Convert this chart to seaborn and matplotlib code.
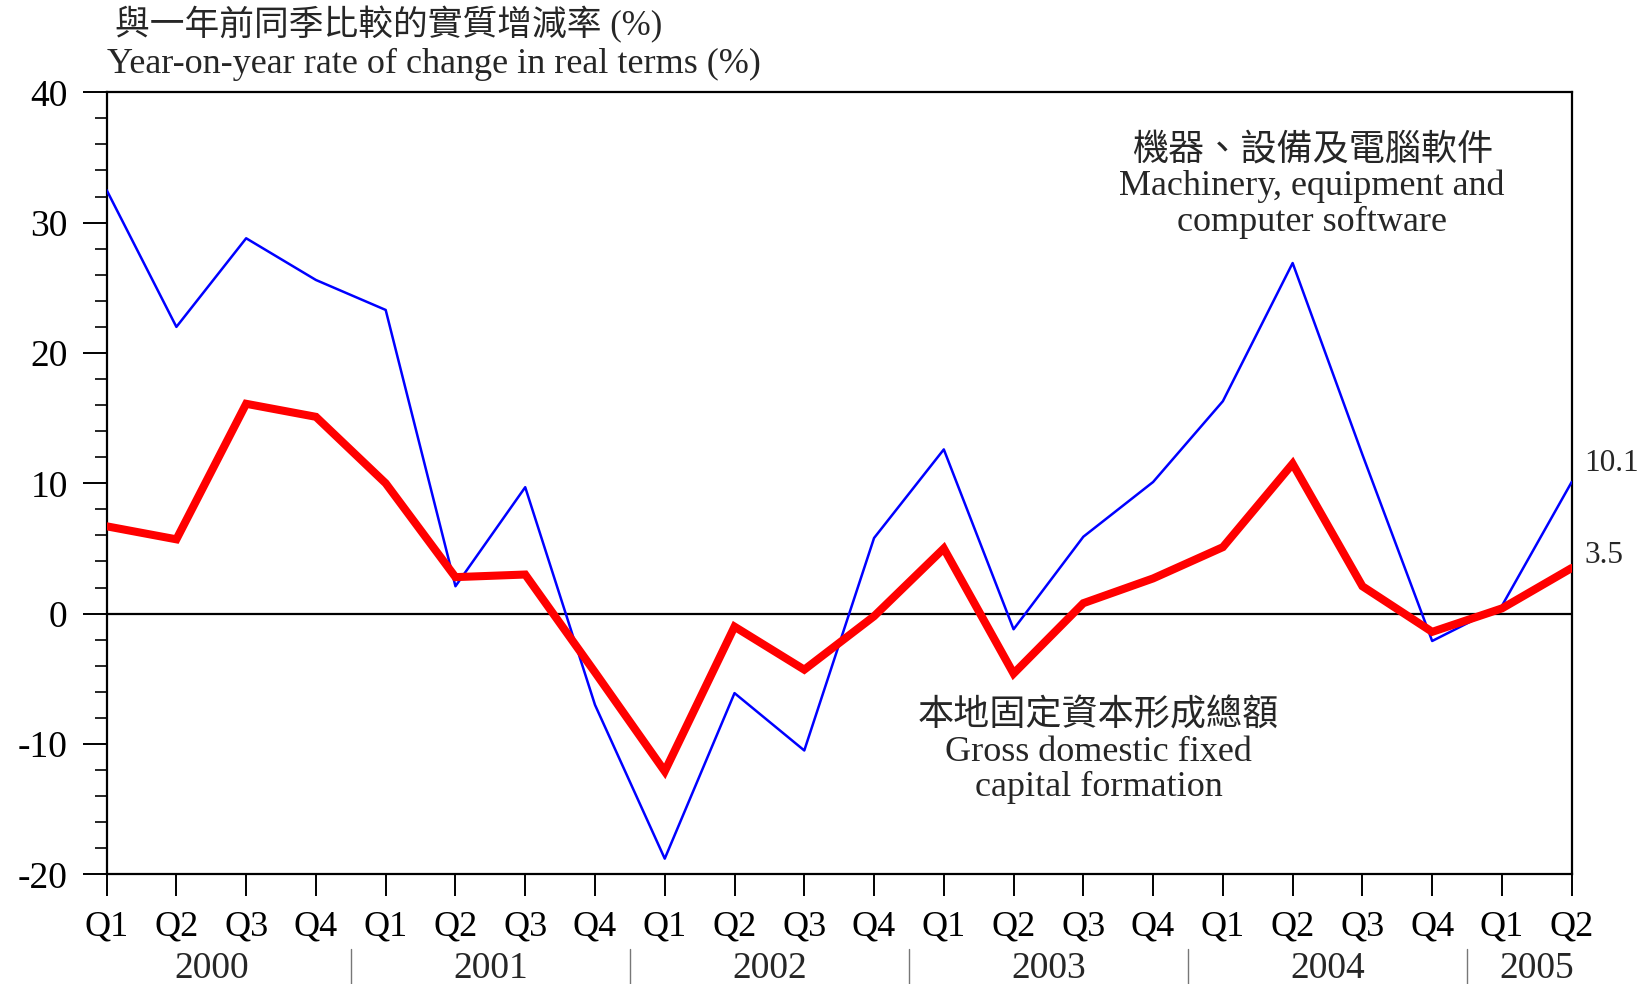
import matplotlib.pyplot as plt
import numpy as np
import pandas as pd
import seaborn as sns
from matplotlib.ticker import MultipleLocator

# quarterly periods, 2000 Q1 .. 2005 Q2
YEARS = ["2000", "2001", "2002", "2003", "2004", "2005"]
QUARTERS = ["Q1", "Q2", "Q3", "Q4"] * 5 + ["Q1", "Q2"]
PERIOD_YEAR = [y for y in YEARS[:-1] for _ in range(4)] + ["2005", "2005"]

# year-on-year rate of change in real terms (%)
MACHINERY = [32.5, 22.0, 28.8, 25.6, 23.3, 2.1, 9.7, -7.0, -18.8, -6.1, -10.5,
             5.8, 12.6, -1.2, 5.9, 10.1, 16.3, 26.9, 12.2, -2.1, 0.6, 10.1]
GDFCF = [6.7, 5.7, 16.1, 15.1, 10.0, 2.8, 3.0, -4.5, -12.1, -1.0, -4.3,
         -0.2, 5.0, -4.6, 0.8, 2.7, 5.1, 11.5, 2.1, -1.4, 0.4, 3.5]

LAST_MACHINERY_LABEL = "10.1"
LAST_GDFCF_LABEL = "3.5"

FONT = ["Liberation Serif", "Noto Sans CJK TC"]

sns.set_theme(style="white")
plt.rcParams["font.family"] = FONT
plt.rcParams["axes.unicode_minus"] = False

df = pd.DataFrame({
    "idx": np.arange(len(QUARTERS)),
    "quarter": QUARTERS,
    "year": PERIOD_YEAR,
    "machinery": MACHINERY,
    "gdfcf": GDFCF,
})

fig = plt.figure(figsize=(16.48, 9.84), dpi=100)
ax = fig.add_axes([0.0647, 0.1115, 0.889, 0.7947])

ax.axhline(0, color="black", lw=1.6, zorder=1)
sns.lineplot(data=df, x="idx", y="machinery", ax=ax, color="#0000ff", lw=1.8, zorder=3)
sns.lineplot(data=df, x="idx", y="gdfcf", ax=ax, color="#ff0000", lw=5.8, zorder=4,
             solid_joinstyle="miter")

ax.set_xlim(0, len(df) - 1)
ax.set_ylim(-20, 40)
ax.yaxis.set_major_locator(MultipleLocator(10))
ax.yaxis.set_minor_locator(MultipleLocator(2))
ax.set_xticks(df["idx"])
ax.set_xticklabels(df["quarter"])
ax.set_xlabel("")
ax.set_ylabel("")

for s in ax.spines.values():
    s.set_color("black")
    s.set_linewidth(1.6)

ax.tick_params(axis="x", which="major", direction="out", length=16, width=1.4,
               labelsize=26, pad=10, colors="black", bottom=True)
ax.tick_params(axis="y", which="major", direction="out", length=17, width=1.4,
               labelsize=27, pad=11, colors="black", left=True)
ax.tick_params(axis="y", which="minor", direction="out", length=8.5, width=1.4,
               left=True)

# year labels and separators under the quarter labels
xt = ax.get_xaxis_transform()
for yr in YEARS:
    pos = df.loc[df["year"] == yr, "idx"]
    ax.text(pos.mean(), -0.121, yr, transform=xt, ha="center", va="center",
            fontsize=27, family=FONT)
    if pos.min() > 0:
        ax.plot([pos.min() - 0.5] * 2, [-0.096, -0.142], transform=xt,
                color="#777777", lw=1.0, clip_on=False)

# end-point labels
ax.annotate(LAST_MACHINERY_LABEL, xy=(df["idx"].iloc[-1], MACHINERY[-1]),
            xytext=(9, 13), textcoords="offset points", ha="left", va="center",
            fontsize=22.5, annotation_clip=False)
ax.annotate(LAST_GDFCF_LABEL, xy=(df["idx"].iloc[-1], GDFCF[-1]),
            xytext=(9, 9), textcoords="offset points", ha="left", va="center",
            fontsize=22.5, annotation_clip=False)

# series captions
ax.text(17.28, 32.8, "機器、設備及電腦軟件\nMachinery, equipment and\ncomputer software",
        ha="center", va="center", multialignment="center", fontsize=26,
        linespacing=1.1, family=FONT)
ax.text(14.22, -10.6, "本地固定資本形成總額\nGross domestic fixed\ncapital formation",
        ha="center", va="center", multialignment="center", fontsize=26,
        linespacing=1.1, family=FONT)

fig.text(0.070, 0.975, "與一年前同季比較的實質增減率 (%)", ha="left", va="center",
         fontsize=25, family=FONT)
fig.text(0.065, 0.934, "Year-on-year rate of change in real terms (%)", ha="left",
         va="center", fontsize=26, family=FONT)

fig.savefig("out.png", dpi=100)
